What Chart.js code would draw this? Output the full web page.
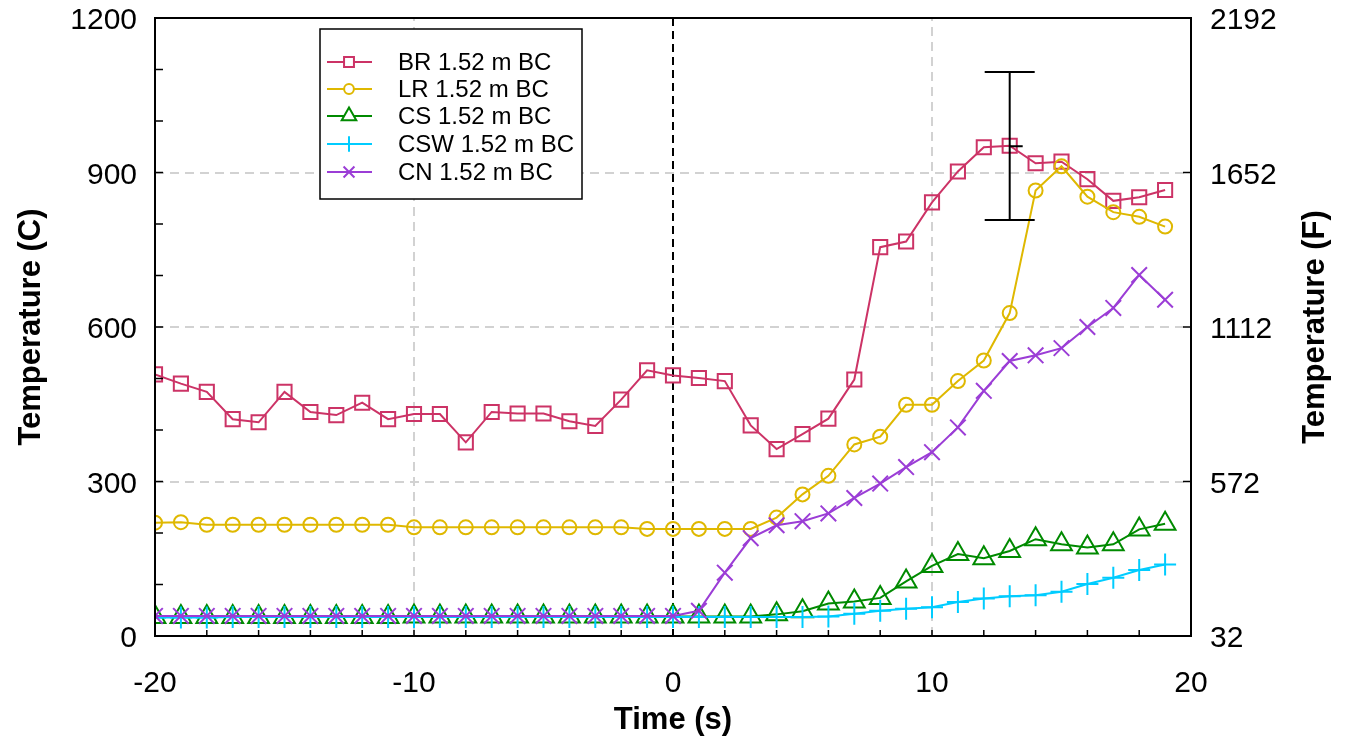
<!DOCTYPE html>
<html><head><meta charset="utf-8">
<script src="https://cdn.jsdelivr.net/npm/chart.js@4.4.1/dist/chart.umd.min.js"></script>
<style>html,body{margin:0;padding:0;background:#fff;overflow:hidden}#wrap{width:1346px;height:737px;position:relative}</style>
</head><body><div id="wrap"><canvas id="c" width="1346" height="737"></canvas></div>
<script>
// ---- data ----
const timeS = [-20,-19,-18,-17,-16,-15,-14,-13,-12,-11,-10,-9,-8,-7,-6,-5,-4,-3,-2,-1,0,1,2,3,4,5,6,7,8,9,10,11,12,13,14,15,16,17,18,19];
const brTemp = [508,490,474,421,415,474,435,429,453,421,431,431,376,435,432,432,417,408,459,516,506,501,495,409,363,392,422,498,755,766,842,902,949,952,918,921,887,845,852,866];
const lrTemp = [220,221,216,216,216,216,216,216,216,216,211,211,211,211,211,211,211,211,211,208,208,208,208,208,230,275,311,372,387,449,449,495,535,627,865,912,853,823,814,795];
const csTemp = [37,37,37,37,37,37,37,37,37,37,38,38,38,38,38,38,38,38,38,38,38,38,38,38,42,48,63,67,74,106,136,159,151,165,188,178,172,178,207,218];
const cswTemp = [36,36,36,37,37,37,37,37,37,37,37,37,37,37,37,37,37,37,37,37,37,37,37,37,37,37,38,43,49,53,56,66,73,77,79,86,101,113,128,139];
const cnTemp = [39,39,39,39,39,39,39,39,39,39,39,39,39,39,39,39,39,39,39,39,39,49,123,190,215,223,238,268,296,328,357,405,476,534,545,559,600,637,701,653];
const seriesNames = ['BR 1.52 m BC','LR 1.52 m BC','CS 1.52 m BC','CSW 1.52 m BC','CN 1.52 m BC'];
const xTickValues = [-20,-10,0,10,20];
const xMinorTicks = [-18,-16,-14,-12,-8,-6,-4,-2,2,4,6,8,12,14,16,18];
const yTickValues = [0,300,600,900,1200];
const yMinorTicks = [100,200,400,500,700,800,1000,1100];
const fTickValues = [32,572,1112,1652,2192];
const gridX = [-10,10];
const gridY = [300,600,900];
const zeroLineX = 0;
const errorBarX = 13;
const errorBarLow = 808;
const errorBarHigh = 1095;
const errorBarMid = 951;
const rightTitle = 'Temperature (F)';

const FONT = "'Liberation Sans', Arial, sans-serif";
const colors = ['#cc3366','#dfb800','#008a00','#00ccff','#9b3dd6'];
const styles = ['rect','circle','triangle','cross','crossRot'];
const radii = [10,7,12,11,11];

const toXY = arr => arr.map((v,i)=>({x:timeS[i], y:v}));
const allSeries = [brTemp,lrTemp,csTemp,cswTemp,cnTemp];
const datasets = allSeries.map((arr,i)=>({
  label: seriesNames[i],
  data: toXY(arr),
  borderColor: colors[i],
  backgroundColor: 'rgba(0,0,0,0)',
  pointBorderColor: colors[i],
  pointBackgroundColor: 'rgba(0,0,0,0)',
  borderWidth: 2,
  pointBorderWidth: 2,
  pointStyle: styles[i],
  pointRadius: radii[i],
  pointHoverRadius: radii[i],
  tension: 0,
  order: 4 - i,
  yAxisID: 'y'
}));

function seg(ctx,x1,y1,x2,y2){ctx.beginPath();ctx.moveTo(x1,y1);ctx.lineTo(x2,y2);ctx.stroke();}

const decor = {
  id: 'decor',
  beforeDatasetsDraw(chart){
    const {ctx, chartArea:a, scales:{x,y}} = chart;
    ctx.save();
    ctx.lineWidth = 2; ctx.strokeStyle = '#d2d2d2'; ctx.setLineDash([9,6]);
    gridX.forEach(v=>{const p=Math.round(x.getPixelForValue(v)); seg(ctx,p,a.bottom,p,a.top);});
    gridY.forEach(v=>{const p=Math.round(y.getPixelForValue(v)); seg(ctx,a.left,p,a.right,p);});
    ctx.strokeStyle = '#000'; ctx.setLineDash([8,5]);
    const z = Math.round(x.getPixelForValue(zeroLineX));
    seg(ctx,z,a.top,z,a.bottom);
    ctx.restore();
  },
  afterDatasetsDraw(chart){
    const {ctx, chartArea:a, scales:{x,y,y2}} = chart;
    ctx.save();
    // error bar
    ctx.strokeStyle='#000'; ctx.lineWidth=2; ctx.setLineDash([]);
    const ex = x.getPixelForValue(errorBarX);
    const yl = y.getPixelForValue(errorBarLow), yh = y.getPixelForValue(errorBarHigh), ym = y.getPixelForValue(errorBarMid);
    seg(ctx,ex,yl,ex,yh);
    seg(ctx,ex-25,yh,ex+25,yh);
    seg(ctx,ex-25,yl,ex+25,yl);
    seg(ctx,ex,ym,ex+13,ym);
    // frame
    ctx.lineWidth=2;
    ctx.strokeRect(a.left,a.top,a.right-a.left,a.bottom-a.top);
    // ticks
    ctx.lineWidth=1.5;
    [...yTickValues, ...yMinorTicks].forEach(v=>{const p=y.getPixelForValue(v); seg(ctx,a.left,p,a.left+8,p);});
    fTickValues.forEach(v=>{const p=y2.getPixelForValue(v); seg(ctx,a.right,p,a.right-8,p);});
    [...xTickValues, ...xMinorTicks].forEach(v=>{const p=x.getPixelForValue(v); seg(ctx,p,a.bottom,p,a.bottom-6);});
    // right title (reads bottom-to-top)
    ctx.save();
    ctx.translate(1315,(a.top+a.bottom)/2);
    ctx.rotate(-Math.PI/2);
    ctx.fillStyle='#000'; ctx.font='bold 31px '+FONT; ctx.textAlign='center'; ctx.textBaseline='middle';
    ctx.fillText(rightTitle,0,0);
    ctx.restore();
    // legend
    const bx=320, by=29, bw=262, bh=170;
    ctx.fillStyle='#fff'; ctx.fillRect(bx,by,bw,bh);
    ctx.strokeStyle='#000'; ctx.lineWidth=1.5; ctx.strokeRect(bx,by,bw,bh);
    const rowY=[62,89,116,144,172];
    chart.data.datasets.forEach((ds,i)=>{
      const ry=rowY[i];
      ctx.strokeStyle=ds.borderColor; ctx.lineWidth=2;
      seg(ctx,327,ry,372,ry);
      ctx.fillStyle='#fff';
      Chart.helpers.drawPoint(ctx,{pointStyle:ds.pointStyle, radius:ds.pointRadius*0.7, rotation:0, borderWidth:2}, 349, ry);
      ctx.fillStyle='#000'; ctx.font='24px '+FONT; ctx.textBaseline='middle'; ctx.textAlign='left';
      ctx.fillText(ds.label, 398, ry+1);
    });
    ctx.restore();
  }
};

const tickFont = {family:FONT, size:30};
const titleFont = {family:FONT, size:31, weight:'bold'};
const plain = v => String(v);
const fixV = (s)=>{s.width=155; s.paddingTop=18; s.paddingBottom=0;};

new Chart(document.getElementById('c'), {
  type:'line',
  data:{datasets},
  options:{
    responsive:false, animation:false, devicePixelRatio:1,
    layout:{padding:{top:0,left:0,right:0,bottom:0}},
    plugins:{legend:{display:false}, tooltip:{enabled:false}},
    scales:{
      x:{type:'linear', position:'bottom', min:-20, max:20,
        afterFit(s){s.height=101; s.paddingLeft=0; s.paddingRight=0;},
        afterBuildTicks(s){s.ticks=xTickValues.map(v=>({value:v}));},
        grid:{display:false, drawTicks:false}, border:{display:false},
        ticks:{padding:30, color:'#000', font:tickFont, maxRotation:0, autoSkip:false, callback:plain},
        title:{display:true, text:'Time (s)', color:'#000', font:titleFont, padding:{top:0,bottom:-2}}},
      y:{type:'linear', position:'left', min:0, max:1200,
        afterFit:fixV,
        afterBuildTicks(s){s.ticks=yTickValues.map(v=>({value:v}));},
        grid:{display:false, drawTicks:false}, border:{display:false},
        ticks:{padding:18, color:'#000', font:tickFont, callback:plain, labelOffset:3},
        title:{display:true, text:'Temperature (C)', color:'#000', font:titleFont, padding:{top:13,bottom:0}}},
      y2:{type:'linear', position:'right', min:32, max:2192,
        afterFit:fixV,
        afterBuildTicks(s){s.ticks=fTickValues.map(v=>({value:v}));},
        grid:{display:false, drawTicks:false}, border:{display:false},
        ticks:{padding:19, color:'#000', font:tickFont, callback:plain, labelOffset:3},
        title:{display:false}}
    }
  },
  plugins:[decor]
});
</script></body></html>
